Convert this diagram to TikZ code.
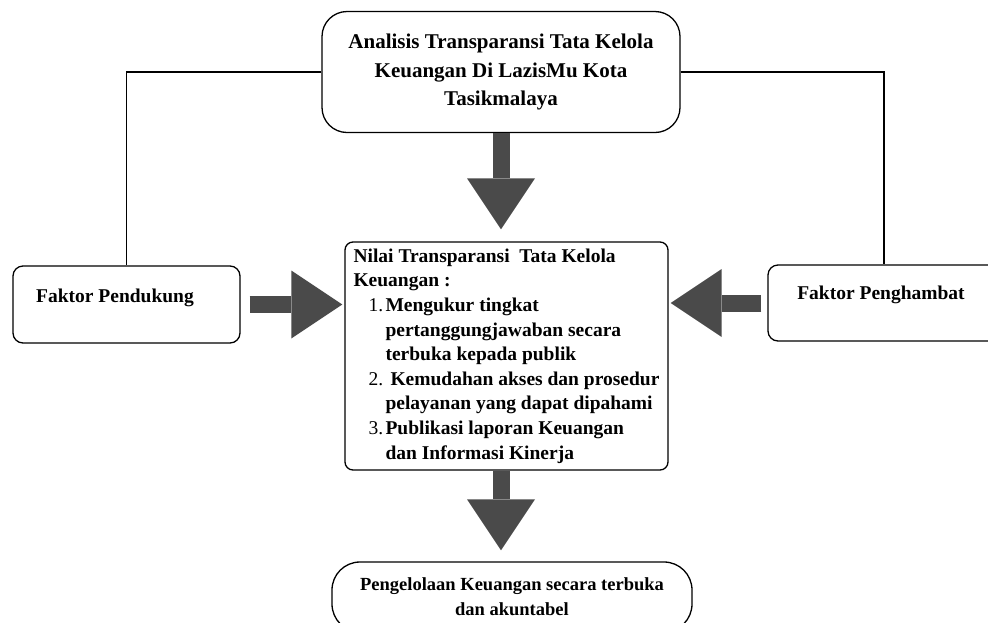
\documentclass[tikz,border=0pt]{standalone}
\usepackage{fontspec}
\setmainfont{Liberation Serif}
\usetikzlibrary{arrows.meta}
\definecolor{arrowgray}{HTML}{4A4A4A}

\begin{document}
\begin{tikzpicture}[x=1pt, y=-1pt,
    box/.style={draw, line width=1.3pt, rounded corners=#1, align=center, inner sep=0pt},
    bigarrow/.style={draw=arrowgray, line width=17pt, -{Triangle[length=51pt, width=68pt, line width=0pt]}},
    link/.style={line width=1.3pt}]
      \fill[white] (0,0) rectangle (988,622);
      \useasboundingbox (0,0) rectangle (988,622);
      \clip (0,0) rectangle (988,622);
      \node[box=25pt, minimum width=358pt, minimum height=121pt, font=\bfseries\fontsize{21}{28.5}\selectfont] (analisis) at (501,72) {Analisis Transparansi Tata Kelola\\Keuangan Di LazisMu Kota\\Tasikmalaya};
      \node[box=8pt, minimum width=323pt, minimum height=228pt, align=left, font=\bfseries\fontsize{19.5}{24.6}\selectfont] (nilai) at (506.5,356) {Nilai Transparansi\ \ Tata Kelola\\
        Keuangan :\\
        \hspace*{15pt}\makebox[17pt][l]{\mdseries 1.}Mengukur tingkat\\
        \hspace*{32pt}pertanggungjawaban secara\\
        \hspace*{32pt}terbuka kepada publik\\
        \hspace*{15pt}\makebox[22pt][l]{\mdseries 2.}Kemudahan akses dan prosedur\\
        \hspace*{32pt}pelayanan yang dapat dipahami\\
        \hspace*{15pt}\makebox[17pt][l]{\mdseries 3.}Publikasi laporan Keuangan\\
        \hspace*{32pt}dan Informasi Kinerja};
      \node[box=10pt, minimum width=227pt, minimum height=77pt] (pendukung) at (126.5,304.5) {};
      \node[font=\bfseries\fontsize{19.5}{24}\selectfont] (pendukungtxt) at (115,298) {Faktor Pendukung};
      \node[box=10pt, minimum width=232pt, minimum height=76pt] (penghambat) at (884,303) {};
      \node[font=\bfseries\fontsize{19.5}{24}\selectfont] (penghambattxt) at (881,295) {Faktor Penghambat};
      \node[box=28pt, minimum width=360pt, minimum height=70pt, font=\bfseries\fontsize{18.5}{25}\selectfont] (kelola) at (512,597) {Pengelolaan Keuangan secara terbuka\\dan akuntabel};
      \draw[link] (analisis.west) -| (pendukung.north);
      \draw[link] (analisis.east) -| (penghambat.north);
      \draw[bigarrow, shorten >=12pt] (analisis.south) -- (analisis.south |- nilai.north);
      \draw[bigarrow, shorten >=11pt] (nilai.south -| analisis.south) -- (analisis.south |- kelola.north);
      \draw[bigarrow, shorten <=9pt, shorten >=2pt] (pendukung.east) -- (pendukung.east -| nilai.west);
      \draw[bigarrow, shorten <=6pt, shorten >=2pt] (penghambat.west) -- (penghambat.west -| nilai.east);
    \end{tikzpicture}
\end{document}
